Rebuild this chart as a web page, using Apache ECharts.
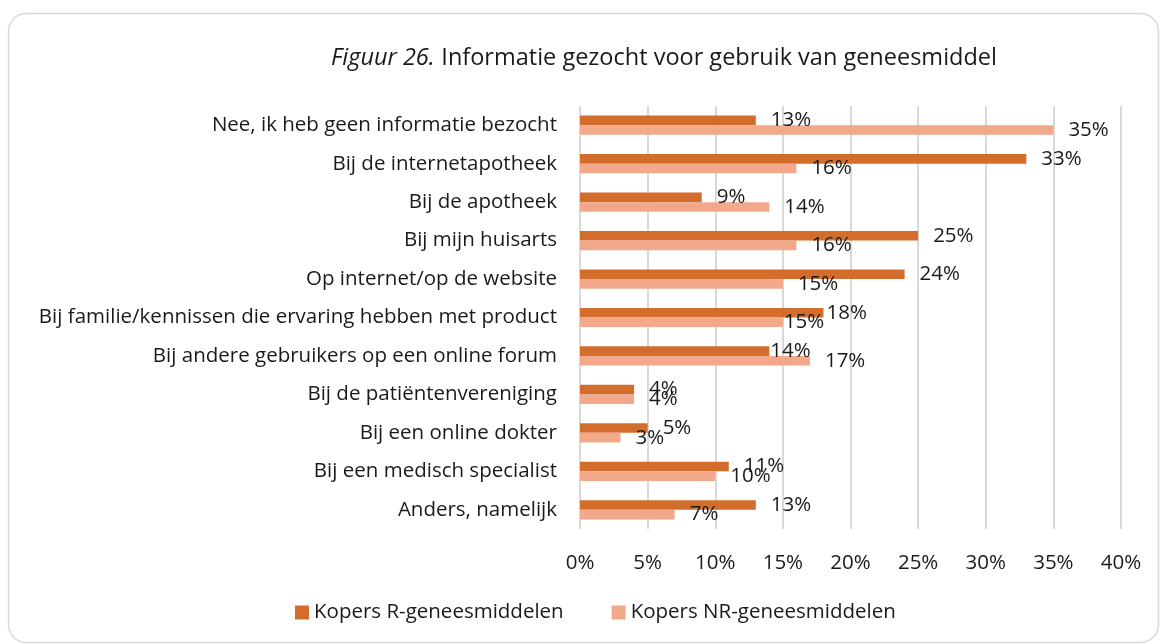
<!DOCTYPE html>
<html>
<head>
<meta charset="utf-8">
<script src="https://cdn.jsdelivr.net/npm/echarts@6/dist/echarts.min.js"></script>
<style>
  html, body { margin: 0; padding: 0; background: #fff; }
  #chart { width: 1162px; height: 644px; }
</style>
</head>
<body>
<div id="chart"></div>
<script>
    'use strict'

    // categories, top to bottom
    var categories = [
        'Nee, ik heb geen informatie bezocht',
        'Bij de internetapotheek',
        'Bij de apotheek',
        'Bij mijn huisarts',
        'Op internet/op de website',
        'Bij familie/kennissen die ervaring hebben met product',
        'Bij andere gebruikers op een online forum',
        'Bij de patiëntenvereniging',
        'Bij een online dokter',
        'Bij een medisch specialist',
        'Anders, namelijk'
    ];
    var seriesNames = ['Kopers R-geneesmiddelen', 'Kopers NR-geneesmiddelen'];
    var koopersR = [13, 33, 9, 25, 24, 18, 14, 4, 5, 11, 13];
    var koopersNR = [35, 16, 14, 16, 15, 15, 17, 4, 3, 10, 7];
    var xTicks = [0, 5, 10, 15, 20, 25, 30, 35, 40];

    // a few labels sit closer to their bar in the original (index -> distance)
    var labelNudgeR = { 5: 3, 6: 1 };
    var labelNudgeNR = { 5: 1 };

    var FONT = '"Open Sans", sans-serif';
    var FS = 20.5;
    var chart = echarts.init(document.getElementById('chart'));

    function barSeries(name, values, color, nudge) {
        return {
            name: name,
            type: 'bar',
            barGap: '0%',
            barCategoryGap: '50%',
            itemStyle: { color: color },
            label: {
                show: true,
                position: 'right',
                distance: 15,
                formatter: '{c}%',
                color: '#1a1a1a',
                fontFamily: FONT,
                fontSize: FS
            },
            data: values.map(function (v, i) {
                return nudge[i] !== undefined ? { value: v, label: { distance: nudge[i] } } : v;
            })
        };
    }

    chart.setOption({
        animation: false,
        textStyle: { fontFamily: FONT },
        graphic: [{
            type: 'rect',
            shape: { x: 8.5, y: 13.5, width: 1150, height: 629, r: 18 },
            style: { fill: 'none', stroke: '#d9d9d9', lineWidth: 1.5 },
            silent: true
        }, {
            type: 'text',
            x: 664,
            y: 58,
            style: {
                text: '{i|Figuur 26.}  {n|Informatie gezocht voor gebruik van geneesmiddel}',
                align: 'center',
                verticalAlign: 'middle',
                rich: {
                    i: { fontFamily: FONT, fontSize: 23.5, fontStyle: 'italic', fill: '#1a1a1a' },
                    n: { fontFamily: FONT, fontSize: 23.5, fill: '#1a1a1a' }
                }
            }
        }],
        legend: {
            data: seriesNames,
            left: 290,
            top: 597,
            itemWidth: 14,
            itemHeight: 14,
            itemGap: 48,
            icon: 'rect',
            textStyle: { fontFamily: FONT, fontSize: FS, color: '#1a1a1a' }
        },
        grid: { left: 580, right: 41, top: 106, height: 423, containLabel: false },
        xAxis: {
            type: 'value',
            min: xTicks[0],
            max: xTicks[xTicks.length - 1],
            interval: 5,
            axisLine: { show: false },
            axisTick: { show: false },
            splitLine: { lineStyle: { color: '#d9d9d9', width: 2 } },
            axisLabel: {
                formatter: '{value}%',
                margin: 24,
                color: '#1a1a1a',
                fontFamily: FONT,
                fontSize: FS
            }
        },
        yAxis: {
            type: 'category',
            inverse: true,
            data: categories,
            axisLine: { show: false },
            axisTick: { show: false },
            axisLabel: {
                margin: 23,
                color: '#1a1a1a',
                fontFamily: FONT,
                fontSize: FS
            }
        },
        series: [
            barSeries(seriesNames[0], koopersR, '#d36d2c', labelNudgeR),
            barSeries(seriesNames[1], koopersNR, '#f2a88a', labelNudgeNR)
        ]
    });
</script>
</body>
</html>
